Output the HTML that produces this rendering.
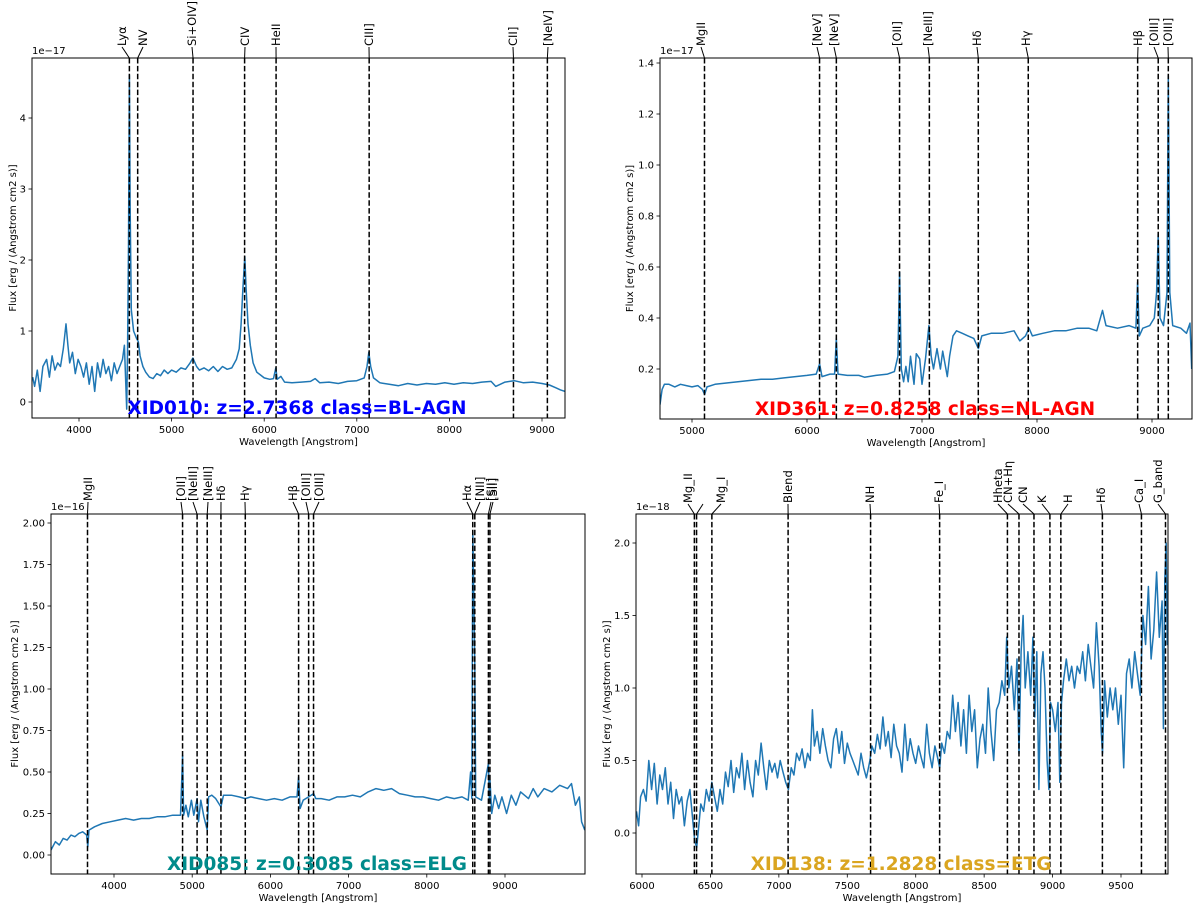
<!DOCTYPE html>
<html><head><meta charset="utf-8"><title>Spectra</title>
<style>
html,body{margin:0;padding:0;background:#fff;}
svg{display:block;font-family:"DejaVu Sans","Liberation Sans",sans-serif;}
</style></head>
<body>
<svg id="fig" width="1200" height="911" viewBox="0 0 1200 911" xmlns="http://www.w3.org/2000/svg"></svg>
<script>
// ---------- Panel data ----------
const p1Wave=[3500,3520,3550,3580,3610,3650,3680,3710,3740,3770,3800,3830,3860,3880,3900,3930,3960,3990,4020,4050,4080,4110,4140,4170,4200,4230,4260,4290,4320,4350,4380,4410,4440,4470,4490,4505,4515,4525,4535,4544,4552,4565,4590,4620,4640,4660,4690,4720,4760,4800,4840,4880,4920,4960,5000,5050,5100,5150,5200,5230,5270,5300,5350,5400,5450,5500,5550,5600,5650,5700,5730,5750,5770,5790,5805,5825,5850,5880,5920,5960,6000,6060,6100,6125,6140,6180,6220,6300,6400,6500,6550,6600,6700,6800,6900,7000,7080,7110,7130,7150,7180,7250,7350,7450,7550,7650,7750,7850,7950,8050,8150,8250,8350,8450,8500,8600,8700,8800,8900,9000,9080,9150,9200,9248];
const p1Flux=[0.35,0.22,0.45,0.15,0.5,0.6,0.35,0.65,0.45,0.55,0.5,0.75,1.1,0.8,0.55,0.7,0.4,0.6,0.5,0.35,0.55,0.25,0.5,0.15,0.55,0.35,0.6,0.4,0.5,0.3,0.55,0.4,0.5,0.6,0.8,0.25,-0.1,0.8,2.2,4.6,2.8,1.3,1.0,0.9,0.85,0.65,0.5,0.42,0.35,0.33,0.4,0.37,0.45,0.4,0.45,0.42,0.48,0.46,0.55,0.62,0.5,0.45,0.48,0.44,0.5,0.43,0.5,0.46,0.48,0.6,0.75,1.1,1.6,2.05,1.6,1.1,0.8,0.55,0.42,0.38,0.34,0.32,0.33,0.48,0.32,0.36,0.28,0.27,0.28,0.29,0.33,0.27,0.28,0.26,0.29,0.3,0.34,0.5,0.7,0.5,0.34,0.27,0.25,0.23,0.26,0.24,0.26,0.25,0.27,0.25,0.27,0.26,0.28,0.29,0.22,0.28,0.3,0.27,0.28,0.26,0.24,0.2,0.17,0.15];
const p2Wave=[4722,4740,4760,4800,4850,4900,4950,5000,5050,5090,5110,5130,5200,5300,5400,5500,5600,5700,5800,5900,6000,6080,6110,6130,6200,6240,6255,6270,6350,6450,6500,6600,6700,6760,6790,6805,6820,6840,6860,6880,6900,6930,6950,6980,7000,7030,7060,7080,7100,7130,7160,7180,7200,7220,7240,7270,7300,7350,7400,7450,7490,7520,7600,7700,7800,7850,7900,7930,7960,8050,8150,8250,8350,8450,8520,8570,8600,8700,8800,8860,8875,8890,8920,8980,9020,9040,9054,9070,9100,9130,9142,9155,9180,9250,9300,9330,9345];
const p2Flux=[0.06,0.12,0.14,0.14,0.13,0.14,0.135,0.13,0.135,0.12,0.1,0.13,0.14,0.145,0.15,0.155,0.16,0.16,0.165,0.17,0.175,0.18,0.22,0.17,0.18,0.18,0.32,0.18,0.175,0.175,0.168,0.175,0.18,0.19,0.25,0.58,0.2,0.15,0.21,0.15,0.25,0.14,0.26,0.24,0.14,0.24,0.37,0.25,0.2,0.28,0.2,0.27,0.22,0.17,0.25,0.33,0.35,0.34,0.33,0.32,0.28,0.33,0.34,0.34,0.35,0.31,0.33,0.36,0.33,0.34,0.35,0.35,0.36,0.36,0.35,0.43,0.37,0.36,0.37,0.36,0.54,0.33,0.36,0.37,0.4,0.5,0.73,0.4,0.37,0.5,1.35,0.5,0.37,0.36,0.34,0.38,0.2];
const p3Wave=[3194,3250,3300,3350,3400,3450,3500,3550,3600,3650,3665,3680,3750,3850,3950,4050,4150,4250,4350,4450,4550,4650,4750,4850,4877,4890,4920,4950,4990,5020,5063,5080,5110,5150,5192,5210,5250,5300,5367,5400,5500,5600,5679,5750,5850,5950,6050,6150,6250,6340,6361,6380,6420,6489,6552,6580,6650,6750,6850,6950,7050,7150,7250,7350,7450,7550,7650,7750,7850,7950,8050,8150,8250,8350,8450,8530,8560,8575,8588,8600,8614,8625,8700,8788,8800,8808,8830,8870,8920,8960,9020,9080,9140,9200,9300,9360,9420,9500,9600,9700,9800,9850,9900,9950,9980,10020];
const p3Flux=[0.03,0.08,0.06,0.1,0.09,0.12,0.11,0.13,0.14,0.12,0.05,0.15,0.17,0.19,0.2,0.21,0.22,0.21,0.22,0.22,0.23,0.23,0.24,0.24,0.6,0.24,0.3,0.23,0.33,0.24,0.34,0.2,0.33,0.23,0.15,0.35,0.36,0.34,0.29,0.36,0.36,0.35,0.34,0.35,0.34,0.33,0.34,0.33,0.35,0.35,0.47,0.28,0.33,0.35,0.37,0.34,0.34,0.33,0.35,0.35,0.36,0.35,0.38,0.4,0.39,0.4,0.37,0.36,0.35,0.35,0.34,0.33,0.35,0.34,0.35,0.33,0.5,0.34,1.95,1.6,1.15,0.35,0.33,0.55,0.32,0.45,0.25,0.36,0.28,0.35,0.25,0.36,0.3,0.38,0.34,0.4,0.35,0.4,0.38,0.42,0.4,0.43,0.3,0.35,0.2,0.15];
const p4Wave=[5960,5975,5990,6010,6030,6050,6070,6090,6110,6130,6150,6170,6190,6210,6230,6250,6270,6290,6310,6330,6350,6370,6385,6400,6415,6430,6450,6470,6490,6510,6530,6550,6570,6590,6610,6630,6650,6670,6690,6710,6730,6750,6770,6790,6810,6830,6850,6870,6890,6910,6930,6950,6970,6990,7010,7030,7050,7070,7090,7110,7130,7150,7170,7190,7210,7230,7245,7260,7280,7300,7320,7340,7360,7380,7400,7420,7440,7460,7480,7500,7520,7540,7560,7580,7600,7620,7640,7665,7680,7700,7720,7740,7760,7780,7800,7820,7840,7860,7880,7900,7920,7940,7960,7980,8000,8020,8040,8060,8080,8100,8120,8140,8160,8175,8190,8210,8230,8250,8270,8290,8310,8330,8350,8370,8390,8410,8430,8450,8470,8490,8510,8530,8550,8570,8590,8610,8630,8650,8665,8680,8700,8720,8740,8755,8770,8785,8800,8820,8840,8856,8870,8885,8900,8915,8930,8945,8960,8973,8985,9000,9020,9040,9053,9065,9080,9100,9120,9140,9160,9180,9200,9220,9240,9260,9280,9300,9320,9340,9355,9365,9380,9400,9420,9440,9460,9480,9500,9520,9540,9560,9580,9600,9620,9640,9660,9680,9700,9720,9740,9760,9780,9800,9810,9820,9830,9838,9842];
const p4Flux=[0.15,0.05,0.25,0.3,0.22,0.5,0.3,0.48,0.2,0.4,0.3,0.45,0.2,0.35,0.1,0.3,0.2,0.25,0.05,0.22,0.3,0.1,-0.05,-0.1,0.05,0.2,0.15,0.3,0.22,0.35,0.25,0.15,0.3,0.2,0.42,0.32,0.5,0.28,0.45,0.38,0.55,0.3,0.5,0.35,0.25,0.5,0.4,0.62,0.45,0.3,0.5,0.42,0.48,0.38,0.5,0.42,0.35,0.3,0.45,0.4,0.55,0.5,0.58,0.45,0.55,0.5,0.85,0.6,0.7,0.55,0.72,0.6,0.5,0.45,0.65,0.72,0.55,0.7,0.48,0.62,0.55,0.5,0.45,0.4,0.55,0.45,0.38,0.5,0.6,0.55,0.68,0.58,0.8,0.6,0.7,0.52,0.75,0.6,0.55,0.42,0.75,0.5,0.65,0.55,0.48,0.6,0.52,0.45,0.75,0.55,0.45,0.6,0.52,0.45,0.62,0.55,0.7,0.65,0.95,0.7,0.9,0.6,0.85,0.55,0.95,0.7,0.85,0.45,0.65,0.75,0.55,1.0,0.7,0.5,0.85,0.9,1.05,0.95,1.35,1.0,1.15,0.85,1.2,0.55,1.25,1.5,1.0,1.25,0.95,1.35,0.8,1.25,0.3,1.1,1.25,1.0,0.5,0.3,0.9,0.85,0.7,0.9,0.35,0.9,1.05,1.2,1.05,1.15,1.0,1.15,1.1,1.25,1.05,1.3,1.15,1.0,1.45,1.15,0.7,0.55,1.05,0.8,1.0,0.85,1.0,0.75,0.95,0.45,1.1,1.2,1.0,1.25,1.1,0.95,1.5,1.3,1.7,1.2,1.4,1.8,1.35,1.6,0.72,1.75,2.0,1.3,1.5];

// line lists: names, rest wavelengths (Angstrom), label x (layout)
const p1Names=["Lyα","NV","Si+OIV]","CIV","HeII","CIII]","CII]","[NeIV]"];
const p1Rest=[1216,1240,1400,1549,1640,1909,2326,2424];
const p2Names=["MgII","[NeV]","[NeV]","[OII]","[NeIII]","Hδ","Hγ","Hβ","[OIII]","[OIII]"];
const p2Rest=[2798,3346,3426,3727,3869,4102,4340,4861,4959,5007];
const p3Names=["MgII","[OII]","[NeIII]","[NeIII]","Hδ","Hγ","Hβ","[OIII]","[OIII]","Hα","[NII]","[SII]","[SII]"];
const p3Rest=[2798,3727,3869,3968,4102,4340,4861,4959,5007,6563,6583,6716,6731];
const p4Names=["Mg_II","","Mg_I","Blend","NH","Fe_I","Hheta","CN+Hη","CN","K","H","Hδ","Ca_I","G_band"];
const p4Rest=[2796,2803,2852,3096,3360,3581,3798,3835,3883,3934,3969,4102,4227,4304];

const p1Ticks=[0,1,2,3,4];
const p2Ticks=[0.2,0.4,0.6,0.8,1.0,1.2,1.4];
const p3Ticks=[0,0.25,0.5,0.75,1.0,1.25,1.5,1.75,2.0];
const p4Ticks=[0,0.5,1.0,1.5,2.0];

const NS="http://www.w3.org/2000/svg";
const fig=document.getElementById('fig');
function el(tag,attrs,parent){const e=document.createElementNS(NS,tag);for(const k in attrs)e.setAttribute(k,attrs[k]);(parent||fig).appendChild(e);return e;}

const panels=[
 {id:'xid010',L:32,R:565,T:58,B:418,x0:4000,px0:79,x1:9000,px1:542,y0:0,py0:402,y1:4,py1:118,
  wave:p1Wave,flux:p1Flux,names:p1Names,rest:p1Rest,z:2.7368,labX:[122,143,192,245,276,369,513,548],labBot:46,
  xt:[4000,5000,6000,7000,8000,9000],yt:p1Ticks,ydec:0,off:'1e−17',title:'XID010: z=2.7368 class=BL-AGN',tcol:'#0000ff',tx:297,ylabX:12},
 {id:'xid361',L:660,R:1192,T:58,B:419,x0:5000,px0:692,x1:9000,px1:1152,y0:0.2,py0:369,y1:1.4,py1:63,
  wave:p2Wave,flux:p2Flux,names:p2Names,rest:p2Rest,z:0.8258,labX:[701,817,834,897,928,977,1026,1138,1154,1168],labBot:46,
  xt:[5000,6000,7000,8000,9000],yt:p2Ticks,ydec:1,off:'1e−17',title:'XID361: z=0.8258 class=NL-AGN',tcol:'#ff0000',tx:925,ylabX:629},
 {id:'xid085',L:51,R:585,T:514,B:874,x0:4000,px0:114,x1:9000,px1:505,y0:0,py0:855,y1:2,py1:523,
  wave:p3Wave,flux:p3Flux,names:p3Names,rest:p3Rest,z:0.3085,labX:[88,181,193,208,221,245,293,306,319,467,480,491,493],labBot:501,
  xt:[4000,5000,6000,7000,8000,9000],yt:p3Ticks,ydec:2,off:'1e−16',title:'XID085: z=0.3085 class=ELG',tcol:'#008b8b',tx:317,ylabX:14},
 {id:'xid138',L:636,R:1168,T:514,B:874,x0:6000,px0:642,x1:9500,px1:1121,y0:0,py0:833,y1:2,py1:543,
  wave:p4Wave,flux:p4Flux,names:p4Names,rest:p4Rest,z:1.2828,labX:[688,703,721,788,870,939,998,1008,1023,1042,1068,1101,1139,1158],labBot:503,
  xt:[6000,6500,7000,7500,8000,8500,9000,9500],yt:p4Ticks,ydec:1,off:'1e−18',title:'XID138: z=1.2828 class=ETG',tcol:'#daa520',tx:901,ylabX:606}
];

panels.forEach((p,pi)=>{
  const sx=w=>p.px0+(w-p.x0)*(p.px1-p.px0)/(p.x1-p.x0);
  const sy=f=>p.py0+(f-p.y0)*(p.py1-p.py0)/(p.y1-p.y0);
  const g=el('g',{});
  
  
  const cid='clip'+pi;
  const cp=el('clipPath',{id:cid},g);
  el('rect',{x:p.L,y:p.T,width:p.R-p.L,height:p.B-p.T},cp);
  // spectrum
  let d='';
  p.wave.forEach((w,i)=>{d+=(i?'L':'M')+sx(w).toFixed(1)+','+sy(p.flux[i]).toFixed(1);});
  const path=el('path',{d:d,fill:'none',stroke:'#1f77b4','stroke-width':1.5,'stroke-linejoin':'round','clip-path':'url(#'+cid+')'},g);
  
  
  // line markers
  p.rest.forEach((r,i)=>{
    const lx=sx(r*(1+p.z));
    const ln=el('line',{x1:lx,y1:p.T,x2:lx,y2:p.B,stroke:'#000','stroke-width':1.5,'stroke-dasharray':'5.5,2.4'},g);
    
    
    const tx=p.labX[i];
    el('line',{x1:tx,y1:p.labBot+1,x2:lx,y2:p.T,stroke:'#000','stroke-width':1},g);
    if(p.names[i]){
      const t=el('text',{x:0,y:0,transform:'translate('+(tx+4)+','+p.labBot+') rotate(-90)','font-size':11.5,fill:'#000','text-anchor':'start'},g);
      t.textContent=p.names[i];
      
      
    }
  });
  // frame
  el('rect',{x:p.L,y:p.T,width:p.R-p.L,height:p.B-p.T,fill:'none',stroke:'#000','stroke-width':1},g);
  // x ticks
  p.xt.forEach(v=>{
    const x=sx(v);
    el('line',{x1:x,y1:p.B,x2:x,y2:p.B+3.5,stroke:'#000','stroke-width':0.8},g);
    const t=el('text',{x:x,y:p.B+15,'font-size':10,'text-anchor':'middle',fill:'#000'},g);
    t.textContent=v;
    
    
  });
  p.yt.forEach(v=>{
    const y=sy(v);
    el('line',{x1:p.L-3.5,y1:y,x2:p.L,y2:y,stroke:'#000','stroke-width':0.8},g);
    const t=el('text',{x:p.L-6,y:y+3.5,'font-size':10,'text-anchor':'end',fill:'#000'},g);
    t.textContent=v.toFixed(p.ydec);
    
    
  });
  const off=el('text',{x:p.L,y:p.T-4,'font-size':10,fill:'#000'},g);
  off.textContent=p.off;
  
  
  const xl=el('text',{x:(p.L+p.R)/2,y:p.B+27,'font-size':10,'text-anchor':'middle',fill:'#000'},g);
  xl.textContent='Wavelength [Angstrom]';
  
  
  const yl=el('text',{x:0,y:0,transform:'translate('+(p.ylabX+4)+','+((p.T+p.B)/2)+') rotate(-90)','font-size':10,'text-anchor':'middle',fill:'#000'},g);
  yl.textContent='Flux [erg / (Angstrom cm2 s)]';
  
  
  const tt=el('text',{x:p.tx,y:p.B-4,'font-size':18.5,'font-weight':'bold','text-anchor':'middle',fill:p.tcol},g);
  tt.textContent=p.title;
  
  
});
</script>
</body></html>
